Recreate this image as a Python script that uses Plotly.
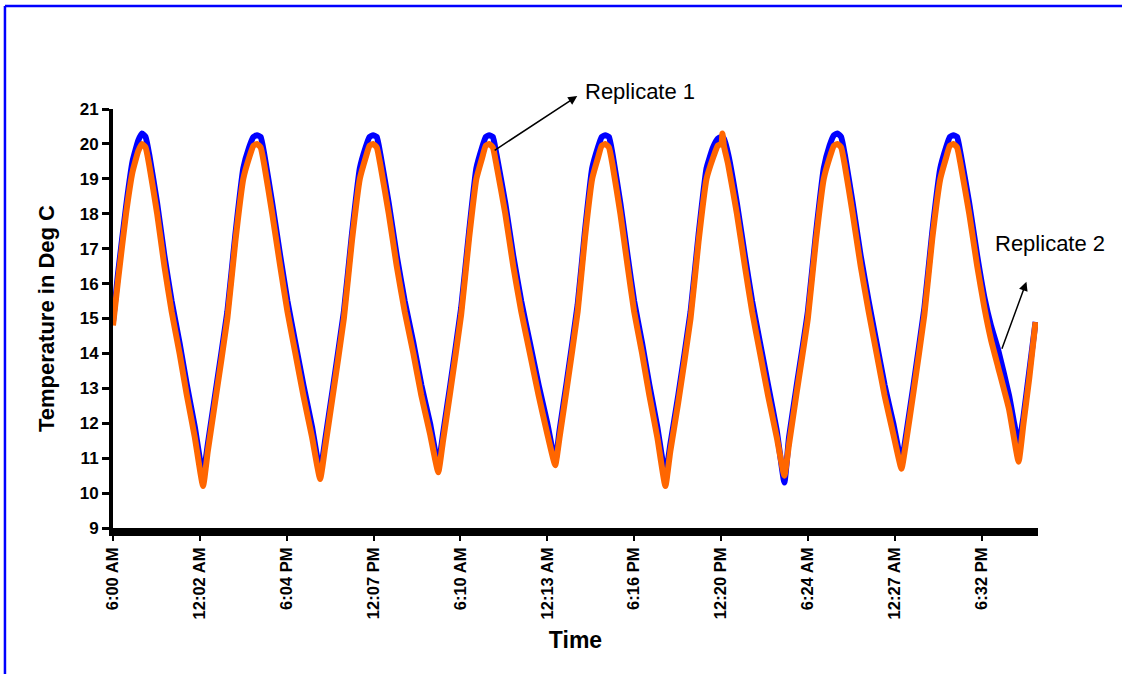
import plotly.graph_objects as go

# time axis in hours since the first reading
hours = [
    0.0, 0.35, 0.9, 1.35, 1.75, 2.0, 2.25, 2.5,
    3.05, 3.55, 4.05, 4.6, 5.1, 5.65, 6.22,
    6.55, 7.05, 7.9, 8.45, 9.0, 9.4, 9.7, 9.95, 10.2, 10.45,
    11.0, 11.55, 12.05, 12.6, 13.15, 13.75, 14.31,
    14.65, 15.15, 15.95, 16.5, 17.05, 17.45, 17.72, 17.97, 18.22, 18.47,
    19.05, 19.6, 20.15, 20.75, 21.3, 21.9, 22.47,
    22.8, 23.3, 24.05, 24.6, 25.1, 25.5, 25.75, 25.99, 26.24, 26.49,
    27.1, 27.65, 28.2, 28.8, 29.4, 30.0, 30.55,
    30.85, 31.35, 32.1, 32.6, 33.1, 33.5, 33.76, 34.01, 34.26, 34.51,
    35.05, 35.55, 36.0, 36.55, 37.05, 37.6, 38.16,
    38.5, 39.05, 39.9, 40.45, 41.0, 41.45, 41.78, 42.03, 42.1, 42.2, 42.5,
    43.1, 43.65, 44.15, 44.7, 45.25, 45.85, 46.38,
    46.7, 47.2, 48.0, 48.55, 49.1, 49.5, 49.8, 50.05, 50.3, 50.55,
    51.1, 51.65, 52.2, 52.75, 53.3, 53.9, 54.47,
    54.8, 55.3, 56.05, 56.6, 57.15, 57.55, 57.81, 58.06, 58.31, 58.56,
    59.15, 59.7, 60.2, 60.65, 61.15, 61.9, 62.56,
    62.9, 63.3, 63.73,
]

# orange series
replicate_1 = [
    14.8, 16.1, 18.0, 19.2, 19.8, 20.0, 19.9, 19.4,
    18.0, 16.5, 15.2, 14.0, 12.8, 11.6, 10.2,
    11.2, 12.6, 15.0, 17.2, 19.0, 19.6, 19.95, 20.0, 19.9, 19.4,
    18.0, 16.5, 15.2, 14.0, 12.8, 11.6, 10.4,
    11.3, 12.7, 15.0, 17.2, 19.0, 19.6, 19.95, 20.0, 19.9, 19.4,
    18.0, 16.5, 15.2, 14.0, 12.8, 11.7, 10.6,
    11.5, 12.9, 15.1, 17.3, 19.0, 19.6, 19.95, 20.0, 19.9, 19.4,
    18.0, 16.5, 15.2, 14.0, 12.8, 11.7, 10.8,
    11.6, 13.0, 15.2, 17.3, 19.0, 19.6, 19.95, 20.0, 19.9, 19.4,
    18.0, 16.5, 15.2, 14.0, 12.8, 11.6, 10.2,
    11.2, 12.6, 15.0, 17.2, 19.0, 19.6, 19.95, 20.0, 20.3, 19.95, 19.4,
    18.0, 16.5, 15.2, 14.0, 12.8, 11.6, 10.5,
    11.4, 12.8, 15.0, 17.2, 19.0, 19.6, 19.95, 20.0, 19.9, 19.4,
    18.0, 16.5, 15.2, 14.0, 12.8, 11.7, 10.7,
    11.5, 12.9, 15.1, 17.3, 19.0, 19.6, 19.95, 20.0, 19.9, 19.4,
    18.0, 16.5, 15.3, 14.4, 13.6, 12.4, 10.9,
    12.0, 13.3, 14.9,
]

# blue series
replicate_2 = [
    14.9, 16.3, 18.2, 19.5, 20.1, 20.3, 20.2, 19.7,
    18.3, 16.8, 15.5, 14.3, 13.1, 11.9, 10.5,
    11.4, 12.8, 15.2, 17.4, 19.3, 19.9, 20.2, 20.25, 20.2, 19.7,
    18.3, 16.8, 15.5, 14.3, 13.1, 11.9, 10.6,
    11.5, 12.9, 15.2, 17.4, 19.3, 19.9, 20.2, 20.25, 20.2, 19.7,
    18.3, 16.8, 15.5, 14.3, 13.1, 12.0, 10.8,
    11.7, 13.1, 15.3, 17.5, 19.3, 19.9, 20.2, 20.25, 20.2, 19.7,
    18.3, 16.8, 15.5, 14.3, 13.1, 12.0, 10.9,
    11.8, 13.2, 15.4, 17.5, 19.3, 19.9, 20.2, 20.25, 20.2, 19.7,
    18.3, 16.8, 15.5, 14.3, 13.1, 11.9, 10.5,
    11.4, 12.8, 15.2, 17.4, 19.3, 19.9, 20.15, 20.2, 20.2, 20.15, 19.7,
    18.3, 16.8, 15.5, 14.3, 13.1, 11.8, 10.3,
    11.6, 13.0, 15.2, 17.4, 19.3, 19.95, 20.25, 20.3, 20.2, 19.7,
    18.3, 16.8, 15.5, 14.3, 13.1, 12.0, 10.9,
    11.7, 13.1, 15.3, 17.5, 19.3, 19.9, 20.2, 20.25, 20.2, 19.7,
    18.3, 16.8, 15.6, 14.8, 14.1, 12.8, 11.4,
    12.2, 13.5, 14.9,
]

tick_hours = [0, 6, 12, 18, 24, 30, 36, 42, 48, 54, 60]
tick_labels = ["6:00 AM", "12:02 AM", "6:04 PM", "12:07 PM", "6:10 AM", "12:13 AM",
               "6:16 PM", "12:20 PM", "6:24 AM", "12:27 AM", "6:32 PM"]

FONT = "Arial, 'Liberation Sans', sans-serif"

fig = go.Figure()
fig.add_trace(go.Scatter(x=hours, y=replicate_2, mode="lines", name="Replicate 2",
                         line=dict(color="#0000FF", width=6, shape="spline", smoothing=0.4)))
fig.add_trace(go.Scatter(x=hours, y=replicate_1, mode="lines", name="Replicate 1",
                         line=dict(color="#FF6600", width=6, shape="spline", smoothing=0.4)))

fig.update_layout(
    width=1122, height=674,
    margin=dict(l=113, r=84, t=109, b=146, pad=0),
    paper_bgcolor="white", plot_bgcolor="white",
    showlegend=False,
    font=dict(family=FONT, color="black"),
    xaxis=dict(
        range=[0, 63.9], tickmode="array", tickvals=tick_hours, ticktext=tick_labels,
        tickangle=-90, ticks="outside", ticklen=5, tickwidth=2, tickcolor="black",
        showline=True, linewidth=8, linecolor="black", showgrid=False, zeroline=False,
        tickfont=dict(family=FONT, size=16.5, weight="bold", color="black"),
        title=dict(text="Time", font=dict(family=FONT, size=23, weight="bold"), standoff=16),
    ),
    yaxis=dict(
        range=[9, 21], dtick=1, tick0=9, ticks="outside", ticklen=7, tickwidth=3,
        tickcolor="black", showline=True, linewidth=4, linecolor="black",
        showgrid=False, zeroline=False,
        tickfont=dict(family=FONT, size=17, weight="bold", color="black"),
        title=dict(text="Temperature in Deg C", font=dict(family=FONT, size=22, weight="bold"),
                   standoff=20),
    ),
    shapes=[
        dict(type="line", xref="paper", yref="paper", x0=-0.1168, x1=1.12, y0=1.2458, y1=1.2458,
             line=dict(color="#0000FF", width=2.5)),
        dict(type="line", xref="paper", yref="paper", x0=-0.1168, x1=-0.1168, y0=-0.4, y1=1.2458,
             line=dict(color="#0000FF", width=2.5)),
    ],
    annotations=[
        dict(x=32.07, y=21.37, xref="x", yref="y", ax=26.26, ay=19.79, axref="x", ayref="y",
             text="", showarrow=True, arrowhead=2, arrowsize=1.2, arrowwidth=1.5,
             arrowcolor="black"),
        dict(x=0.5081, y=1.0406, xref="paper", yref="paper", text="Replicate 1", showarrow=False,
             xanchor="left", yanchor="middle", font=dict(family=FONT, size=22, color="black")),
        dict(x=63.1, y=16.05, xref="x", yref="y", ax=61.37, ay=14.09, axref="x", ayref="y",
             text="", showarrow=True, arrowhead=2, arrowsize=1.2, arrowwidth=1.5,
             arrowcolor="black"),
        dict(x=0.9514, y=0.680, xref="paper", yref="paper", text="Replicate 2", showarrow=False,
             xanchor="left", yanchor="middle", font=dict(family=FONT, size=22, color="black")),
    ],
)

fig.write_html("out.html", config={"displayModeBar": False},
               post_script="document.body.style.margin='0';")
